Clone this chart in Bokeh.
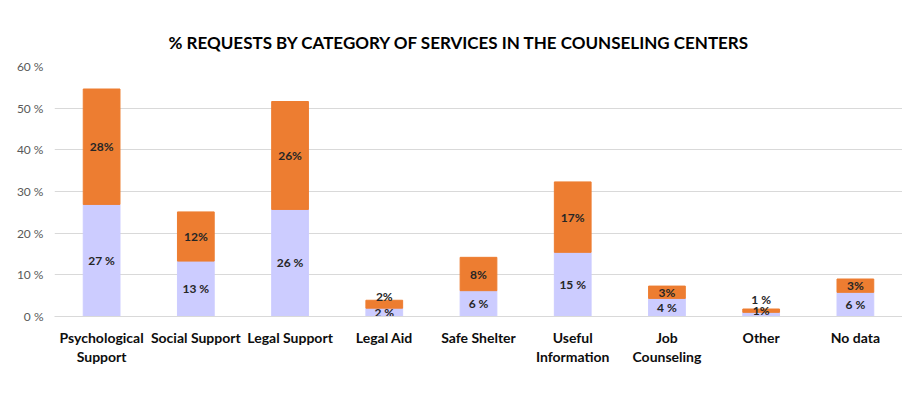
from bokeh.plotting import figure
from bokeh.models import (ColumnDataSource, Range1d, FactorRange, Legend, LegendItem,
                          FixedTicker, CategoricalAxis)
from bokeh.core.properties import value
from bokeh.embed import file_html
from bokeh.resources import INLINE

# ---- data ----
categories = ["Psychological Support", "Social Support", "Legal Support", "Legal Aid",
              "Safe Shelter", "Useful Information", "Job Counseling", "Other", "No data"]
label_line1 = ["Psychological", "Social Support", "Legal Support", "Legal Aid",
               "Safe Shelter", "Useful", "Job", "Other", "No data"]
label_line2 = ["Support", "", "", "", "", "Information", "Counseling", "", ""]
series_names = ["Mar-20", "Apr-20"]
mar_20 = [26.9, 13.3, 25.7, 2.0, 6.2, 15.4, 4.35, 1.0, 5.8]
apr_20 = [27.7, 11.8, 25.9, 1.9, 8.0, 16.9, 2.95, 0.8, 3.2]
y_ticks = [0, 10, 20, 30, 40, 50, 60]
y_tick_labels = ["0 %", "10 %", "20 %", "30 %", "40 %", "50 %", "60 %"]
title_text = "% REQUESTS BY CATEGORY OF SERVICES IN THE COUNSELING CENTERS"

# ---- style ----
FONT = "Lato"
C_MAR = "#CCCCFF"
C_APR = "#ED7D31"
GRID = "#D9D9D9"
LABEL_COLOR = "#0D0D0D"

src = ColumnDataSource(dict(cat=categories, mar=mar_20, apr=apr_20))

p = figure(frame_width=848, frame_height=250, x_range=FactorRange(factors=categories),
           y_range=Range1d(0, 60), output_backend="svg", toolbar_location=None,
           x_axis_location=None,
           min_border_left=54, min_border_right=0, min_border_top=66, min_border_bottom=10)
p.outline_line_color = None

rs = p.vbar_stack(["mar", "apr"], x="cat", width=0.39, source=src,
                  color=[C_MAR, C_APR], line_color=[C_MAR, C_APR])

# data labels
above = {("Legal Aid", "Apr-20"): -4, ("Other", "Mar-20"): -10}
lx, ly, lt, lo = [], [], [], []
for c, m, a in zip(categories, mar_20, apr_20):
    for name, val, base in (("Mar-20", m, 0.0), ("Apr-20", a, m)):
        lx.append(c)
        if (c, name) in above:
            ly.append(m + a)
            lo.append(above[(c, name)])
        else:
            ly.append(base + val / 2)
            lo.append(0)
        lt.append(f"{round(val)} %" if name == "Mar-20" else f"{round(val)}%")
lsrc = ColumnDataSource(dict(x=lx, y=ly, text=lt, yo=lo))
p.text(x="x", y="y", text="text", y_offset="yo", source=lsrc, text_align="center",
       text_baseline="middle", text_font=value(FONT), text_font_style="bold",
       text_font_size="12px", text_color="#262626")

# title
p.title.text = title_text
p.title.text_font = FONT
p.title.text_font_size = "17px"
p.title.text_font_style = "bold"
p.title.text_color = "#000000"
p.title.align = "left"
p.title.offset = 114
p.title.standoff = 27

# y axis
p.yaxis.ticker = FixedTicker(ticks=y_ticks)
p.yaxis.major_label_overrides = dict(zip(y_ticks, y_tick_labels))
p.yaxis.axis_line_color = None
p.yaxis.major_tick_line_color = None
p.yaxis.minor_tick_line_color = None
p.yaxis.major_tick_out = 0
p.yaxis.major_label_text_font = FONT
p.yaxis.major_label_text_font_size = "12px"
p.yaxis.major_label_text_color = "#595959"
p.yaxis.major_label_standoff = 11

# x axis: category labels drawn as two stacked categorical axes (line 1, line 2),
# plus a transparent third axis that only reserves room for the legend
line2_factors = [t if t else " " * (i + 1) for i, t in enumerate(label_line2)]
p.extra_x_ranges = {"line1": FactorRange(factors=label_line1),
                    "line2": FactorRange(factors=line2_factors)}
for name, standoff, line_color, alpha in (("line1", 12, GRID, 1.0),
                                          ("line2", -1, None, 1.0),
                                          ("line2", 20, None, 0.0)):
    ax = CategoricalAxis(x_range_name=name)
    ax.axis_line_color = line_color
    ax.major_tick_line_color = None
    ax.minor_tick_line_color = None
    ax.major_tick_out = 0
    ax.major_tick_in = 0
    ax.major_label_standoff = standoff
    ax.major_label_text_font = FONT
    ax.major_label_text_font_size = "14px"
    ax.major_label_text_font_style = "bold"
    ax.major_label_text_color = LABEL_COLOR
    ax.major_label_text_alpha = alpha
    p.add_layout(ax, "below")

p.xgrid.grid_line_color = None
p.ygrid.grid_line_color = GRID

# legend below the category labels (offset from the frame's bottom-left corner)
legend = Legend(items=[LegendItem(label=n, renderers=[r]) for n, r in zip(series_names, rs)],
                orientation="horizontal", location=(346, -84), border_line_color=None,
                background_fill_alpha=0, glyph_width=9, glyph_height=9, label_standoff=5,
                spacing=12, margin=0, padding=4, label_text_font=FONT,
                label_text_font_size="14px", label_text_font_style="bold",
                label_text_color=LABEL_COLOR)
p.add_layout(legend)

open("out.html", "w").write(file_html(p, INLINE))
